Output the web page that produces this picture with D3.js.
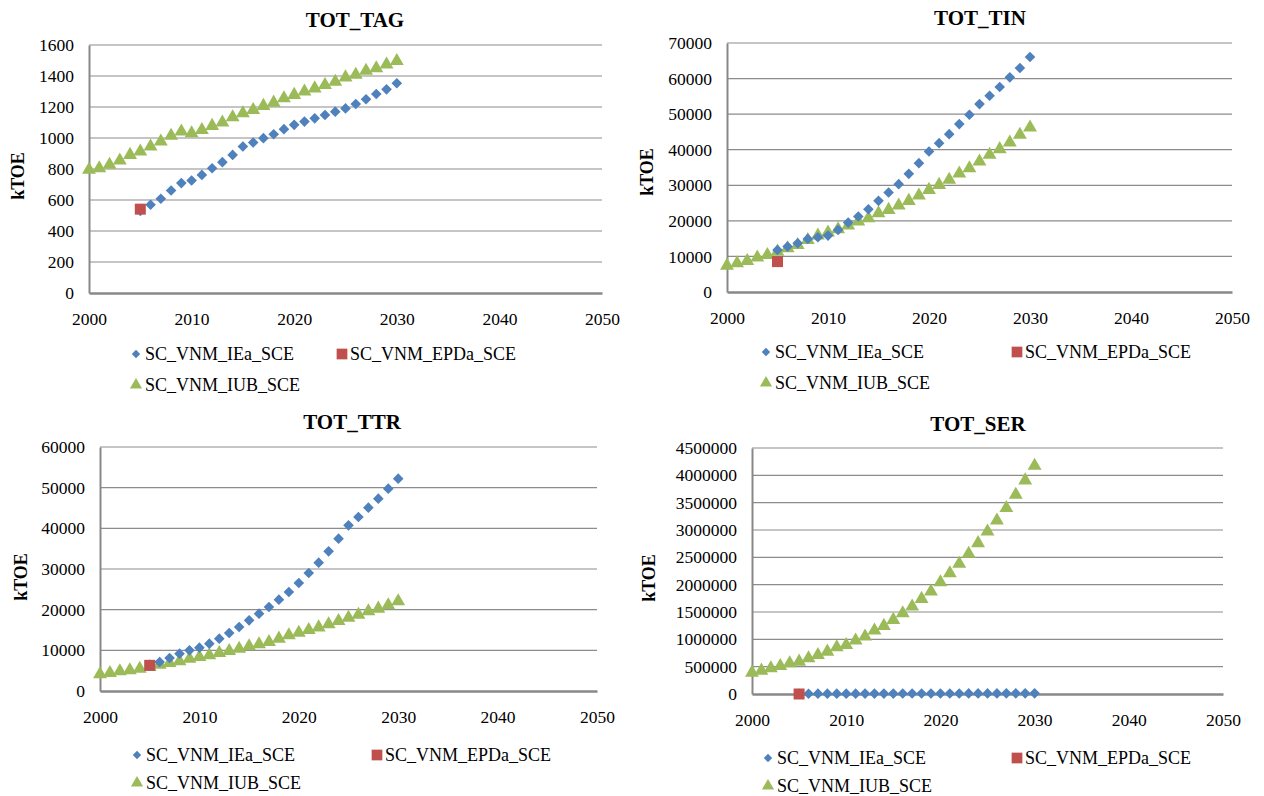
<!DOCTYPE html>
<html>
<head>
<meta charset="utf-8">
<script src="https://cdn.jsdelivr.net/npm/d3@7"></script>
<style>
  body { margin: 0; background: #fff; }
  svg text { font-family: "Liberation Serif", "Times New Roman", "DejaVu Serif", serif; fill: #000; }
  .title { font-size: 21px; font-weight: bold; }
  .ylab { font-size: 18px; font-weight: bold; }
  .tick text { font-size: 17.5px; }
  .legend text { font-size: 18px; }
</style>
</head>
<body>
<svg id="chart" width="1264" height="796"></svg>
<script>
// years for each series
var yearsUB = d3.range(2000, 2031);   // SC_VNM_IUB_SCE
var yearsIE = d3.range(2005, 2031);   // SC_VNM_IEa_SCE
var yearsEP = [2005];                 // SC_VNM_EPDa_SCE

var seriesNames = ["SC_VNM_IEa_SCE", "SC_VNM_EPDa_SCE", "SC_VNM_IUB_SCE"];
var xTicks = [2000, 2010, 2020, 2030, 2040, 2050];

// TOT_TAG
var tagIE = [530, 569, 608, 661, 709, 726, 762, 805, 844, 891, 945, 971, 999, 1024, 1057, 1085,
             1106, 1127, 1148, 1170, 1191, 1219, 1250, 1284, 1314, 1353];
var tagEP = [541];
var tagUB = [795, 805, 827, 855, 891, 913, 945, 977, 1014, 1042, 1031, 1052, 1078, 1100, 1134, 1160,
             1181, 1207, 1228, 1256, 1278, 1300, 1320, 1342, 1363, 1391, 1408, 1434, 1450, 1474, 1497];

// TOT_TIN
var tinIE = [11800, 12760, 13700, 14920, 15390, 15860, 17450, 19520, 21210, 23270, 25620, 27960, 30310,
             33220, 36220, 39500, 41850, 44380, 47200, 49830, 52830, 55180, 57620, 60340, 62960, 66060];
var tinEP = [8540];
var tinUB = [7410, 8070, 8730, 9670, 10420, 11350, 12290, 13230, 14640, 15860, 16700, 17640, 18670,
             19800, 20740, 22150, 23080, 24300, 25620, 27120, 28710, 30120, 31530, 33300, 34810, 36690,
             38570, 40160, 42040, 44200, 46260];

// TOT_TTR
var ttrIE = [6200, 7130, 8120, 9180, 10000, 10660, 11640, 12870, 14260, 15740, 17380, 19020, 20660,
             22460, 24340, 26560, 29020, 31560, 34340, 37460, 40740, 42790, 45080, 47300, 49750, 52210];
var ttrEP = [6310];
var ttrUB = [4100, 4430, 4840, 5080, 5490, 5900, 6480, 6890, 7300, 7950, 8360, 8770, 9340, 9840,
             10410, 10980, 11480, 12050, 12870, 13690, 14340, 15000, 15650, 16390, 17210, 18030,
             18770, 19590, 20250, 21070, 22050];

// TOT_SER
var serIE = [5200, 5400, 5700, 6000, 6300, 6500, 6800, 7100, 7400, 7700, 8000, 8300, 8600, 8900,
             9200, 9500, 9800, 10100, 10400, 10700, 11000, 11300, 11600, 11900, 12200, 12500];
var serEP = [0];
var serUB = [390800, 427400, 470200, 512900, 561700, 592300, 653300, 714400, 775400, 854800, 897500,
             976900, 1050200, 1160100, 1245600, 1355500, 1477600, 1599700, 1740100, 1874500, 2045400,
             2210300, 2381200, 2564400, 2759800, 2973500, 3175000, 3400900, 3645100, 3907700, 4176400];

var colors = ["#4F81BD", "#C0504D", "#9BBB59"];
var fontFamily = '"Liberation Serif", "Times New Roman", "DejaVu Serif", serif';

// panel layout
var panels = [
  { title: "TOT_TAG", ie: tagIE, ep: tagEP, ub: tagUB, yMax: 1600, yStep: 200,
    left: 89, right: 602, top: 45, bottom: 293, titleX: 355, titleY: 27, ylabX: 24, ylabY: 176,
    legX: 136, legX2: 342, legY: 354, legGap: 31 },
  { title: "TOT_TIN", ie: tinIE, ep: tinEP, ub: tinUB, yMax: 70000, yStep: 10000,
    left: 727, right: 1232, top: 43, bottom: 292, titleX: 980, titleY: 25, ylabX: 653, ylabY: 172,
    legX: 766, legX2: 1017, legY: 352, legGap: 31 },
  { title: "TOT_TTR", ie: ttrIE, ep: ttrEP, ub: ttrUB, yMax: 60000, yStep: 10000,
    left: 100, right: 597, top: 447, bottom: 691, titleX: 352, titleY: 429, ylabX: 27, ylabY: 577,
    legX: 137, legX2: 377, legY: 755, legGap: 28 },
  { title: "TOT_SER", ie: serIE, ep: serEP, ub: serUB, yMax: 4500000, yStep: 500000,
    left: 752, right: 1223, top: 448, bottom: 694, titleX: 978, titleY: 431, ylabX: 655, ylabY: 578,
    legX: 768, legX2: 1017, legY: 758, legGap: 28 }
];

var svg = d3.select("#chart");

var diamond = d3.symbol().type(d3.symbolDiamond2).size(72);
var square = d3.symbol().type(d3.symbolSquare).size(121);
var triangle = d3.symbol().type(d3.symbolTriangle).size(84);

function drawMarker(g, type, x, y, color) {
  var path = type === 0 ? diamond() : type === 1 ? square() : triangle();
  g.append("path")
    .attr("d", path)
    .attr("transform", `translate(${x},${y})`)
    .attr("fill", color);
}

panels.forEach(function(p) {
  var g = svg.append("g");

  var x = d3.scaleLinear().domain([2000, 2050]).range([p.left, p.right]);
  var y = d3.scaleLinear().domain([0, p.yMax]).range([p.bottom, p.top]);
  var yTicks = d3.range(0, p.yMax + 1, p.yStep);

  // gridlines
  g.append("g")
    .selectAll("line")
    .data(yTicks.filter(d => d > 0))
    .enter()
    .append("line")
    .attr("x1", p.left)
    .attr("x2", p.right)
    .attr("y1", d => y(d))
    .attr("y2", d => y(d))
    .attr("stroke", "#8c8c8c")
    .attr("stroke-width", 1.2);

  // y axis
  var yAxis = g.append("g")
    .attr("transform", `translate(${p.left},0)`)
    .call(d3.axisLeft(y).tickValues(yTicks).tickSize(0).tickPadding(15).tickFormat(d3.format("d")))
    .attr("font-family", fontFamily)
    .attr("font-size", null);
  yAxis.select(".domain").attr("stroke", "#888").attr("stroke-width", 2);

  // x axis
  var xAxis = g.append("g")
    .attr("transform", `translate(0,${p.bottom})`)
    .call(d3.axisBottom(x).tickValues(xTicks).tickSize(0).tickPadding(20).tickFormat(d3.format("d")))
    .attr("font-family", fontFamily)
    .attr("font-size", null);
  xAxis.select(".domain").attr("stroke", "#888").attr("stroke-width", 2.5);

  // title
  g.append("text")
    .attr("class", "title")
    .attr("x", p.titleX)
    .attr("y", p.titleY)
    .attr("text-anchor", "middle")
    .text(p.title);

  // y label
  g.append("text")
    .attr("class", "ylab")
    .attr("transform", `translate(${p.ylabX},${p.ylabY}) rotate(-90)`)
    .attr("text-anchor", "middle")
    .text("kTOE");

  // series: IUB first (below), then IEa, then EPDa on top
  var series = [
    { type: 2, years: yearsUB, vals: p.ub },
    { type: 0, years: yearsIE, vals: p.ie },
    { type: 1, years: yearsEP, vals: p.ep }
  ];
  series.forEach(function(s) {
    var sg = g.append("g");
    s.vals.forEach(function(v, i) {
      drawMarker(sg, s.type, x(s.years[i]), y(v), colors[s.type]);
    });
  });

  // legend
  var leg = g.append("g").attr("class", "legend");
  var items = [
    { type: 0, lx: p.legX, ly: p.legY },
    { type: 1, lx: p.legX2, ly: p.legY },
    { type: 2, lx: p.legX, ly: p.legY + p.legGap }
  ];
  items.forEach(function(it) {
    var mk = it.type === 0 ? d3.symbol().type(d3.symbolDiamond2).size(45)()
           : it.type === 1 ? d3.symbol().type(d3.symbolSquare).size(115)()
           : d3.symbol().type(d3.symbolTriangle).size(64)();
    leg.append("path")
      .attr("d", mk)
      .attr("transform", `translate(${it.lx},${it.ly})`)
      .attr("fill", colors[it.type]);
    leg.append("text")
      .attr("x", it.lx + (it.type === 1 ? 8 : 9))
      .attr("y", it.ly + 6)
      .text(seriesNames[it.type]);
  });
});
</script>
</body>
</html>
